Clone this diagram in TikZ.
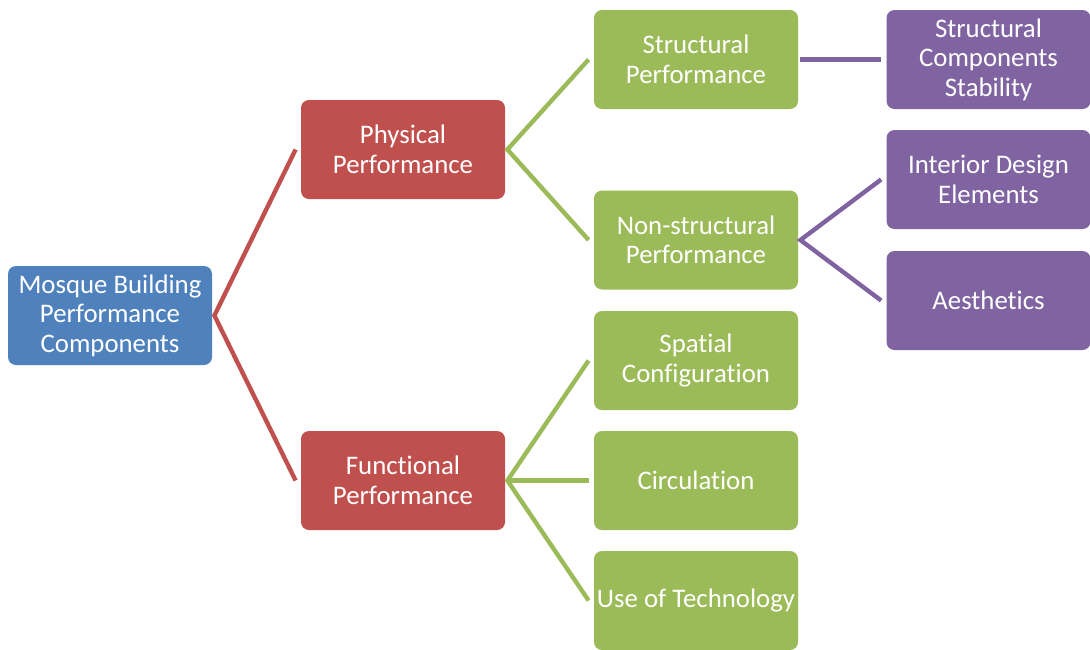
\documentclass[tikz,border=0pt]{standalone}
\usepackage{fontspec}
\setmainfont{Carlito}[Ligatures={NoCommon}]
\usetikzlibrary{positioning}

\definecolor{rootblue}{HTML}{4F81BD}
\definecolor{levelred}{HTML}{C0504D}
\definecolor{levelgreen}{HTML}{9BBB59}
\definecolor{levelpurple}{HTML}{8064A2}

\tikzset{
  box/.style={rectangle, rounded corners=4pt, minimum width=102pt, minimum height=49.5pt,
    inner sep=0pt, align=center, text=white, font=\fontsize{13.4}{14.75}\selectfont},
  link/.style={line width=2.2pt, line join=miter},
}

\begin{document}
\begin{tikzpicture}[x=0.5pt, y=-0.5pt]
                \useasboundingbox (0,0) rectangle (1090,649);

                % Nodes
                \node at (110,315.5) (mosque) [box, fill=rootblue] {Mosque Building\\Performance\\Components};
                \node at (403,149.5) (physical) [box, fill=levelred] {Physical\\Performance};
                \node at (403,480.5) (functional) [box, fill=levelred] {Functional\\Performance};
                \node at (696,59.5) (structural) [box, fill=levelgreen] {Structural\\Performance};
                \node at (696,240) (nonstructural) [box, fill=levelgreen] {Non-structural\\Performance};
                \node at (696,360.5) (spatial) [box, fill=levelgreen] {Spatial\\Configuration};
                \node at (696,480.5) (circulation) [box, fill=levelgreen] {Circulation};
                \node at (696,600.5) (technology) [box, fill=levelgreen] {Use of Technology};
                \node at (988.5,59.5) (stability) [box, fill=levelpurple] {Structural\\Components\\Stability};
                \node at (988.5,179.5) (interior) [box, fill=levelpurple] {Interior Design\\Elements};
                \node at (988.5,300.5) (aesthetics) [box, fill=levelpurple] {Aesthetics};

                % Lines
                \draw[link, levelred] ([xshift=-2.5pt]physical.west) -- ([xshift=1pt]mosque.east) -- ([xshift=-2.5pt]functional.west);
                \draw[link, levelgreen] ([xshift=-2.5pt]structural.west) -- ([xshift=1pt]physical.east) -- ([xshift=-2.5pt]nonstructural.west);
                \draw[link, levelgreen] ([xshift=-2.5pt]spatial.west) -- ([xshift=1pt]functional.east) -- ([xshift=-2.5pt]technology.west);
                \draw[link, levelgreen] ([xshift=1pt]functional.east) -- ([xshift=-2.5pt]circulation.west);
                \draw[link, levelpurple] ([xshift=1pt]structural.east) -- ([xshift=-2.5pt]stability.west);
                \draw[link, levelpurple] ([xshift=-2.5pt]interior.west) -- ([xshift=1pt]nonstructural.east) -- ([xshift=-2.5pt]aesthetics.west);

            \end{tikzpicture}
\end{document}
